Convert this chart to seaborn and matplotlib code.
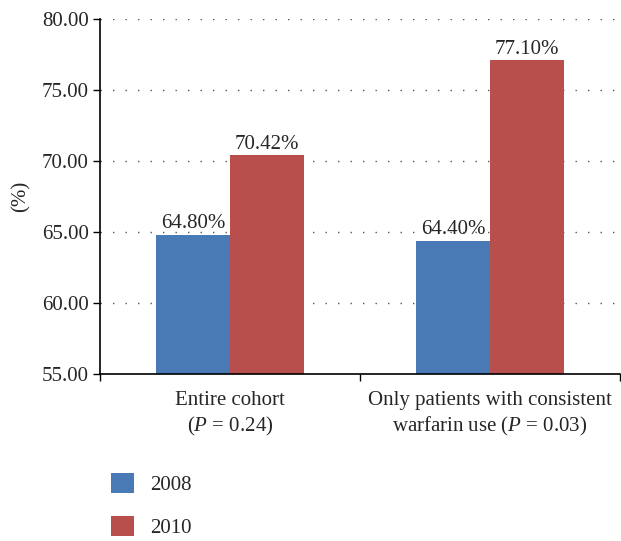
import matplotlib
matplotlib.use("Agg")
import matplotlib.pyplot as plt
import seaborn as sns
import pandas as pd
from matplotlib.patches import Patch

categories = ["Entire cohort\n($P$ = 0.24)", "Only patients with consistent\nwarfarin use ($P$ = 0.03)"]
years = ["2008", "2010"]
values_2008 = [64.80, 64.40]
values_2010 = [70.42, 77.10]
colors = ["#4a7ab5", "#b94f4c"]

df = pd.DataFrame({
    "category": categories * 2,
    "year": [years[0]] * 2 + [years[1]] * 2,
    "value": values_2008 + values_2010,
})

sns.set_style("white")
plt.rcParams["font.family"] = ["Liberation Serif", "DejaVu Serif"]
plt.rcParams["mathtext.fontset"] = "custom"
plt.rcParams["mathtext.it"] = "Liberation Serif:italic"
plt.rcParams["mathtext.rm"] = "Liberation Serif"

FS = 15

fig = plt.figure(figsize=(6.21, 5.41), dpi=100)
ax = fig.add_axes([100/621, 1 - 374/541, 520/621, (374 - 19)/541])

sns.barplot(data=df, x="category", y="value", hue="year", palette=colors,
            width=0.566, ax=ax, legend=False, saturation=1, edgecolor="none",
            bottom=0)

ax.set_ylim(55, 80)
ax.set_xlim(-0.5, 1.5)
ax.set_yticks([55, 60, 65, 70, 75, 80])
ax.set_yticklabels([f"{v:.2f}" for v in [55, 60, 65, 70, 75, 80]], fontsize=FS)
ax.set_ylabel("(%)", fontsize=FS, labelpad=8)
ax.set_xlabel("")
ax.tick_params(axis="x", which="major", length=0, labelsize=FS, pad=12)
for lbl in ax.get_xticklabels():
    lbl.set_linespacing(1.35)
ax.set_xticks([-0.5, 0.5, 1.5], minor=True)
ax.tick_params(axis="x", which="minor", length=5, width=1, direction="out", bottom=True, color="black")
ax.tick_params(axis="y", length=5, width=1, direction="out", left=True, color="black", pad=3)

for yv in [60, 65, 70, 75, 80]:
    ax.axhline(yv, color="#555555", linestyle=(0, (1, 8)), linewidth=1.0, zorder=0)

for s in ["top", "right"]:
    ax.spines[s].set_visible(False)
for s in ["left", "bottom"]:
    ax.spines[s].set_color("black")
    ax.spines[s].set_linewidth(1.2)

for cont in ax.containers:
    ax.bar_label(cont, labels=[f"{v:.2f}%" for v in cont.datavalues], fontsize=FS, padding=1)

handles = [Patch(facecolor=c, edgecolor="none") for c in colors]
fig.legend(handles, years, loc="upper left", bbox_to_anchor=(96/621, 1 - 458/541),
           frameon=False, fontsize=FS, handlelength=1.1, handleheight=1.1,
           labelspacing=1.0, handletextpad=0.8, borderpad=0.2)

fig.savefig("out.png", dpi=100)
